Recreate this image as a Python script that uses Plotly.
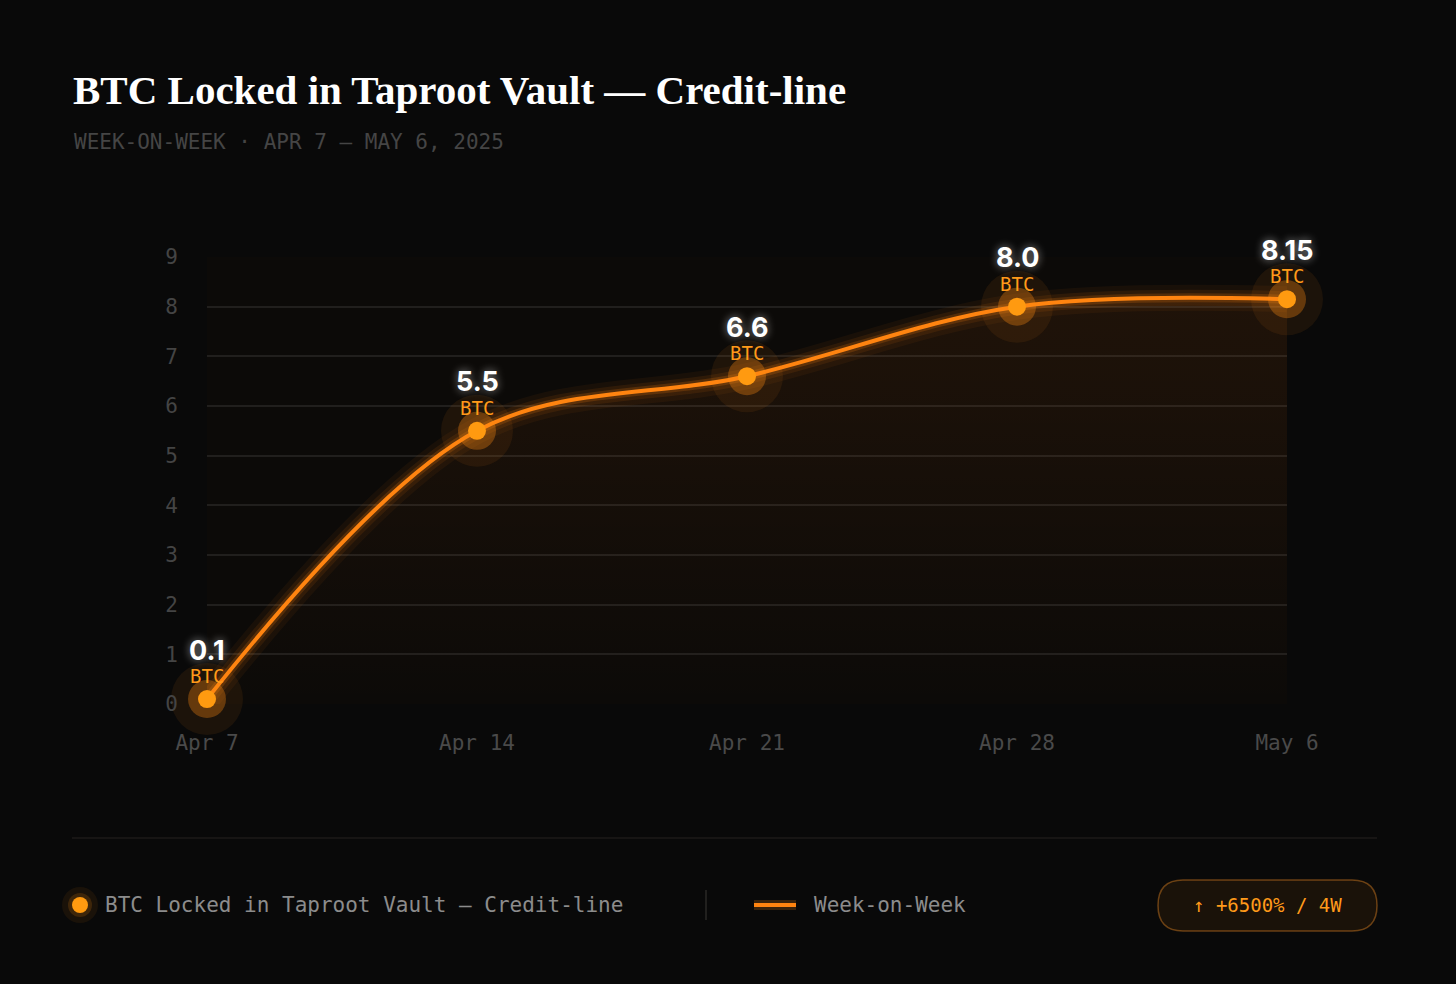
import plotly.graph_objects as go

# Data
weeks = ['Apr 7', 'Apr 14', 'Apr 21', 'Apr 28', 'May 6']
btc_locked = [0.1, 5.5, 6.6, 8.0, 8.15]
value_labels = ['0.1', '5.5', '6.6', '8.0', '8.15']
y_ticks = [0, 1, 2, 3, 4, 5, 6, 7, 8, 9]

title_text = 'BTC Locked in Taproot Vault — Credit-line'
subtitle_text = 'WEEK-ON-WEEK · APR 7 – MAY 6, 2025'
series_name = 'BTC Locked in Taproot Vault – Credit-line'
line_name = 'Week-on-Week'
badge_text = '↑ +6500% / 4W'

# page geometry (pixels) -> plot area
W, H = 1456, 984
PL, PR, PT, PB = 207, 1287, 257, 704
MONO = 'DejaVu Sans Mono'
ORANGE = '#ff8410'


def px(x):
    return (x - PL) / (PR - PL)


def py(y):
    return (PB - y) / (PB - PT)


fig = go.Figure()

# glow layers under the line
for w, op in [(26, 0.05), (16, 0.09), (9, 0.18)]:
    fig.add_trace(go.Scatter(
        x=weeks, y=btc_locked, mode='lines',
        line=dict(color=ORANGE, width=w, shape='spline', smoothing=1.0),
        opacity=op, hoverinfo='skip', showlegend=False, cliponaxis=False,
    ))

# main line with gradient fill
fig.add_trace(go.Scatter(
    x=weeks, y=btc_locked, mode='lines',
    line=dict(color=ORANGE, width=4, shape='spline', smoothing=1.0),
    fill='tozeroy',
    fillgradient=dict(type='vertical', start=0, stop=8.15,
                      colorscale=[[0, 'rgba(255,120,20,0.0)'],
                                  [1, 'rgba(255,120,20,0.08)']]),
    showlegend=False, cliponaxis=False,
))

# point halos and dots
fig.add_trace(go.Scatter(
    x=weeks, y=btc_locked, mode='markers',
    marker=dict(color='rgba(255,140,20,0.08)', size=72, line=dict(width=0)),
    hoverinfo='skip', showlegend=False, cliponaxis=False,
))
fig.add_trace(go.Scatter(
    x=weeks, y=btc_locked, mode='markers',
    marker=dict(color='rgba(255,140,20,0.32)', size=38, line=dict(width=0)),
    hoverinfo='skip', showlegend=False, cliponaxis=False,
))
fig.add_trace(go.Scatter(
    x=weeks, y=btc_locked, mode='markers',
    marker=dict(color='#ff9a10', size=18, line=dict(width=0)),
    showlegend=False, cliponaxis=False,
))

# value labels
for wk, v, lab in zip(weeks, btc_locked, value_labels):
    fig.add_annotation(
        x=wk, y=v, text='<b>' + lab + '</b>', showarrow=False, yshift=49,
        font=dict(family='Inter', size=27, color='#ffffff',
                  shadow='0 0 8px rgba(255,255,255,0.55)'),
    )
    fig.add_annotation(
        x=wk, y=v, text='BTC', showarrow=False, yshift=23,
        font=dict(family=MONO, size=19, color='#ff9a1a'),
    )

# title and subtitle
fig.add_annotation(
    x=px(71), y=py(90), xref='paper', yref='paper', xanchor='left', yanchor='middle',
    text='<b>' + title_text + '</b>', showarrow=False,
    font=dict(family='Liberation Serif', size=41, color='#ffffff'),
)
fig.add_annotation(
    x=px(72), y=py(142), xref='paper', yref='paper', xanchor='left', yanchor='middle',
    text=subtitle_text, showarrow=False,
    font=dict(family=MONO, size=21, color='#454545'),
)

shapes = []
# bottom separator
shapes.append(dict(type='line', xref='paper', yref='paper',
                   x0=px(72), x1=px(1377), y0=py(838), y1=py(838),
                   line=dict(color='#1c1a18', width=1.5)))
# legend dot with glow
for r, col in [(18, 'rgba(255,140,20,0.07)'), (12, 'rgba(255,140,20,0.16)'),
               (8, '#ff9a10')]:
    shapes.append(dict(type='circle', xref='paper', yref='paper',
                       x0=px(80 - r), x1=px(80 + r), y0=py(905 + r), y1=py(905 - r),
                       fillcolor=col, line=dict(width=0)))
# vertical divider
shapes.append(dict(type='line', xref='paper', yref='paper',
                   x0=px(706), x1=px(706), y0=py(890), y1=py(920),
                   line=dict(color='#2a2826', width=1.5)))
# legend line swatch
for wd, col in [(10, 'rgba(255,140,20,0.2)'), (4, ORANGE)]:
    shapes.append(dict(type='line', xref='paper', yref='paper',
                       x0=px(754), x1=px(796), y0=py(905), y1=py(905),
                       line=dict(color=col, width=wd)))

# badge pill
bx0, bx1, by0, by1, br = 1158, 1377, 880, 931, 25
path = ('M {a},{t} L {b},{t} Q {r},{t} {r},{m} Q {r},{bt} {b},{bt} '
        'L {a},{bt} Q {l},{bt} {l},{m} Q {l},{t} {a},{t} Z').format(
    a=px(bx0 + br), b=px(bx1 - br), l=px(bx0), r=px(bx1),
    t=py(by0), bt=py(by1), m=py((by0 + by1) / 2))
shapes.append(dict(type='path', xref='paper', yref='paper', path=path,
                   fillcolor='rgba(255,140,20,0.07)',
                   line=dict(color='rgba(255,150,40,0.38)', width=1.5)))

fig.add_annotation(
    x=px(103), y=py(905), xref='paper', yref='paper', xanchor='left', yanchor='middle',
    text=series_name, showarrow=False,
    font=dict(family=MONO, size=21, color='#8c8c8c'),
)
fig.add_annotation(
    x=px(812), y=py(905), xref='paper', yref='paper', xanchor='left', yanchor='middle',
    text=line_name, showarrow=False,
    font=dict(family=MONO, size=21, color='#8c8c8c'),
)
fig.add_annotation(
    x=px((bx0 + bx1) / 2), y=py(905), xref='paper', yref='paper',
    xanchor='center', yanchor='middle',
    text=badge_text, showarrow=False,
    font=dict(family=MONO, size=19, color='#ff9a1a'),
)

fig.update_layout(
    width=W, height=H,
    margin=dict(l=PL, r=W - PR, t=PT, b=H - PB),
    paper_bgcolor='#090909',
    plot_bgcolor='#0c0a08',
    shapes=shapes,
    showlegend=False,
    xaxis=dict(
        type='category', range=[0, len(weeks) - 1],
        showgrid=False, zeroline=False, showline=False,
        ticks='outside', ticklen=20, tickcolor='rgba(0,0,0,0)',
        tickfont=dict(family=MONO, size=21, color='#4a4a4a'),
    ),
    yaxis=dict(
        range=[0, 9], tickvals=y_ticks,
        showgrid=True, gridcolor='#211f1d', gridwidth=1.5,
        zeroline=False, showline=False,
        ticks='outside', ticklen=24, tickcolor='rgba(0,0,0,0)',
        tickfont=dict(family=MONO, size=21, color='#444444'),
    ),
)

fig.write_html('out.html', config={'displayModeBar': False},
               post_script="document.body.style.margin='0';"
                           "document.body.style.background='#090909';")
